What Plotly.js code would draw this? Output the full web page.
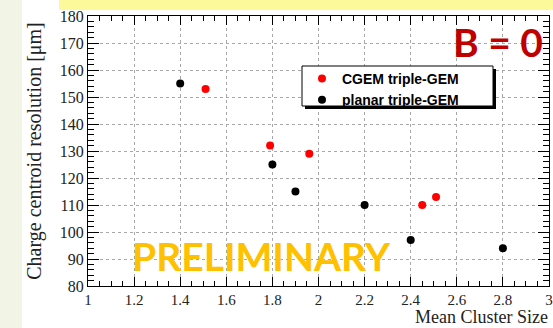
<!DOCTYPE html>
<html>
<head>
<meta charset="utf-8">
<script src="https://cdn.plot.ly/plotly-3.0.1.min.js"></script>
<style>
html,body{margin:0;padding:0;background:#fff;}
#chart{width:553px;height:328px;}
</style>
</head>
<body>
<div id="chart"></div>
<script>
// Data
const cgemX = [1.51, 1.79, 1.96, 2.45, 2.51];
const cgemY = [153, 132, 129, 110, 113];
const planarX = [1.40, 1.80, 1.90, 2.20, 2.40, 2.80];
const planarY = [155, 125, 115, 110, 97, 94];
const seriesNames = ["CGEM triple-GEM", "planar triple-GEM"];
const xTickVals = [1, 1.2, 1.4, 1.6, 1.8, 2, 2.2, 2.4, 2.6, 2.8, 3];
const xTickText = ["1", "1.2", "1.4", "1.6", "1.8", "2", "2.2", "2.4", "2.6", "2.8", "3"];
const yTickVals = [80, 90, 100, 110, 120, 130, 140, 150, 160, 170, 180];
const xTitle = "Mean Cluster Size";
const yTitle = "Charge centroid resolution [μm]";
const labelB = "B = 0";
const labelPrelim = "PRELIMINARY";

const W = 553, H = 328, L = 88, R = 4, T = 16, B = 42;
const pw = W - L - R, ph = H - T - B;
const px = v => (v - L) / pw;
const py = v => (H - B - v) / ph;

const serif = "Liberation Serif, Times New Roman, serif";

const traces = [
  {x: cgemX, y: cgemY, name: seriesNames[0], type: "scatter", mode: "markers",
   marker: {color: "#ff0000", size: 8}},
  {x: planarX, y: planarY, name: seriesNames[1], type: "scatter", mode: "markers",
   marker: {color: "#000000", size: 8}}
];

const axisCommon = {
  showline: true, linecolor: "#000", linewidth: 1, mirror: "allticks",
  ticks: "inside", tickcolor: "#000", tickwidth: 1,
  showgrid: true, gridcolor: "#a8a8a8", griddash: "dot", gridwidth: 1,
  zeroline: false,
  tickfont: {family: serif, size: 15, color: "#222"}
};

const layout = {
  width: W, height: H,
  margin: {l: L, r: R, t: T, b: B, pad: 0},
  paper_bgcolor: "#ffffff", plot_bgcolor: "#ffffff",
  showlegend: true,
  xaxis: Object.assign({}, axisCommon, {
    range: [1, 3], tickmode: "array", tickvals: xTickVals, ticktext: xTickText, ticklen: 9,
    minor: {ticks: "inside", ticklen: 5, dtick: 0.05, tick0: 1, tickcolor: "#000", showgrid: false}
  }),
  yaxis: Object.assign({}, axisCommon, {
    range: [80, 180], tickmode: "array", tickvals: yTickVals, ticklen: 11,
    tickfont: {family: serif, size: 16, color: "#222"},
    title: {text: yTitle, font: {family: serif, size: 20, color: "#222"}, standoff: 12},
    minor: {ticks: "inside", ticklen: 6, dtick: 2, tick0: 80, tickcolor: "#000", showgrid: false}
  }),
  legend: {
    x: px(302), y: py(63), xanchor: "left", yanchor: "top",
    bgcolor: "rgba(0,0,0,0)", borderwidth: 0,
    font: {family: "Liberation Sans, Arial, sans-serif", size: 14, color: "#000", weight: "bold"},
    tracegroupgap: 0
  },
  shapes: [
    {type: "rect", xref: "paper", yref: "paper", x0: px(0), x1: px(22), y0: py(H), y1: py(0),
     fillcolor: "#f2f4e6", line: {width: 0}, layer: "below"},
    {type: "rect", xref: "paper", yref: "paper", x0: px(59), x1: px(W), y0: py(10), y1: py(0),
     fillcolor: "#fcf99b", line: {width: 0}, layer: "below"},
    // legend shadow
    {type: "rect", xref: "paper", yref: "paper", x0: px(305), x1: px(496), y0: py(109), y1: py(69),
     fillcolor: "#000", line: {width: 0}, layer: "above"},
    // legend box
    {type: "rect", xref: "paper", yref: "paper", x0: px(302), x1: px(493), y0: py(106), y1: py(66),
     fillcolor: "#fff", line: {width: 1, color: "#000"}, layer: "above"}
  ],
  annotations: [
    {text: xTitle, xref: "paper", yref: "paper", x: 1, y: py(328), xanchor: "right", yanchor: "bottom",
     showarrow: false, borderpad: 0, font: {family: serif, size: 18, color: "#222"}},
    {text: labelB, xref: "paper", yref: "paper", x: px(545), y: py(42), xanchor: "right", yanchor: "middle",
     showarrow: false, font: {family: "Lato, Open Sans, sans-serif", size: 39, color: "#c00000", weight: "bold"}},
    {text: labelPrelim, xref: "paper", yref: "paper", x: px(130), y: py(256), xanchor: "left", yanchor: "middle",
     showarrow: false, font: {family: "Lato, Open Sans, sans-serif", size: 39, color: "#ffc000", weight: "bold"}}
  ]
};

Plotly.newPlot("chart", traces, layout, {displayModeBar: false, staticPlot: true});
</script>
</body>
</html>
